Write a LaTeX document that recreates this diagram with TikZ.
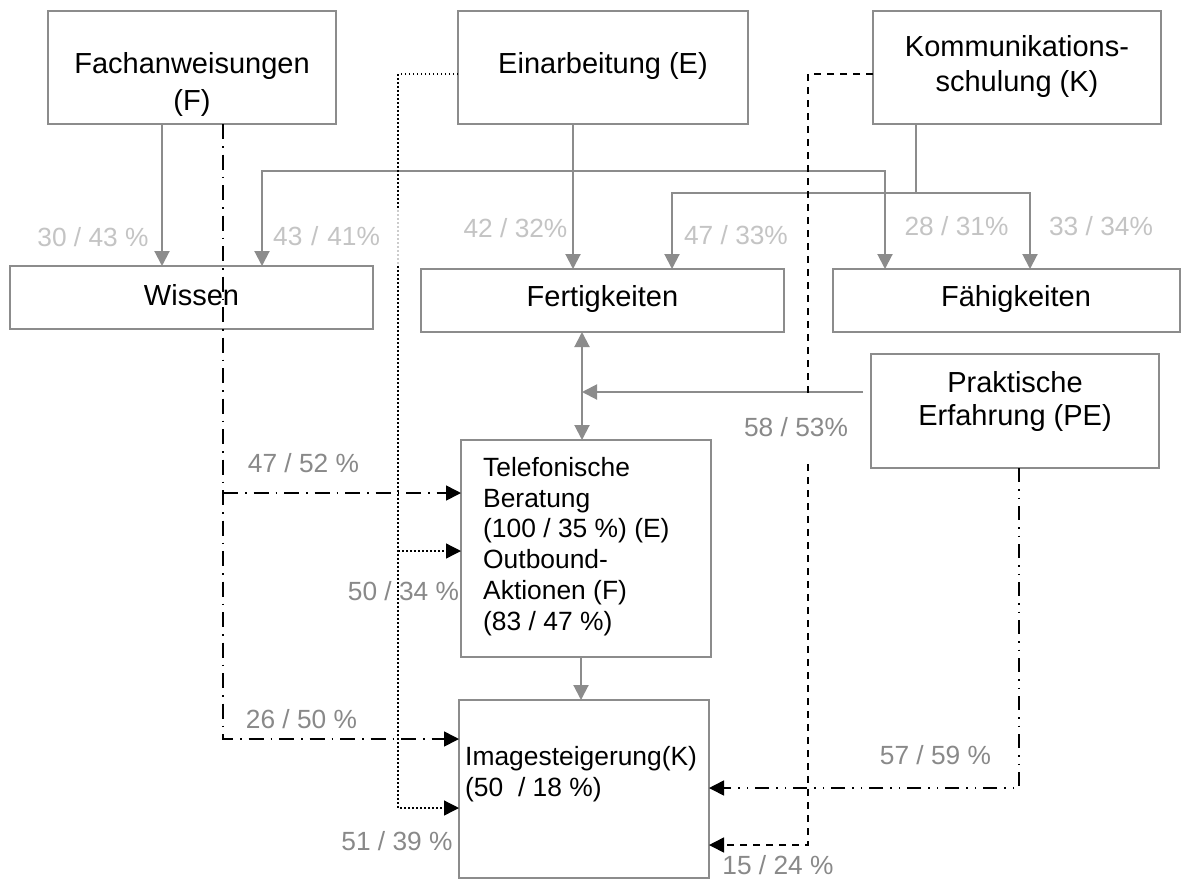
\documentclass[tikz,border=0pt]{standalone}
\usepackage{fontspec}
\setmainfont{Liberation Sans}
\usetikzlibrary{arrows.meta,calc}
\definecolor{boxgray}{HTML}{8C8C8C}
\definecolor{lblLight}{HTML}{C4C4C4}
\definecolor{lblDark}{HTML}{898989}

\begin{document}
\begin{tikzpicture}[x=1pt,y=-1pt,
  box/.style={draw=boxgray,line width=2pt,inner sep=0pt,outer sep=0pt},
  ttl/.style={anchor=base,inner sep=0pt,font=\fontsize{29}{35}\selectfont},
  body/.style={anchor=base west,inner sep=0pt,font=\fontsize{26.4}{31}\selectfont},
  lbl/.style={inner sep=0pt,font=\fontsize{26.3}{31}\selectfont},
  toplbl/.style={lbl,text=lblLight},
  lowlbl/.style={lbl,text=lblDark},
  tip/.tip={Triangle[length=15pt,width=15pt]},
  gline/.style={draw=boxgray,line width=2pt},
  garrow/.style={gline,-tip},
  garrowtwo/.style={gline,tip-tip},
  btip/.style={-tip},
  fdash/.style={line width=1.6pt,dash pattern=on 15pt off 7pt on 1.5pt off 7pt},
  pdash/.style={line width=1.6pt,dash pattern=on 14pt off 7pt on 1.5pt off 7pt on 1.5pt off 7pt},
  kdash/.style={line width=1.6pt,dash pattern=on 7pt off 6pt},
  dots/.style={line width=1.3pt,dash pattern=on 1.5pt off 2.5pt}
]
\fill[white] (0,0) rectangle (1189,879);
\useasboundingbox (0,0) rectangle (1189,879);

% boxes
\node[box,minimum width=288pt,minimum height=113pt] (F)  at (192,67.5) {};
\node[box,minimum width=290pt,minimum height=113pt] (E)  at (603,67.5) {};
\node[box,minimum width=288pt,minimum height=113pt] (K)  at (1017,67.5) {};
\node[box,minimum width=363pt,minimum height=63pt]  (W)  at (191.5,297.5) {};
\node[box,minimum width=363pt,minimum height=63pt]  (Fe) at (602.5,300.5) {};
\node[box,minimum width=347pt,minimum height=63pt]  (Fa) at (1006.5,300.5) {};
\node[box,minimum width=288pt,minimum height=114pt] (PE) at (1015,411) {};
\node[box,minimum width=250pt,minimum height=217pt] (T)  at (586,548.5) {};
\node[box,minimum width=250pt,minimum height=178pt] (I)  at (584,789) {};

% box texts
\node[ttl] (Ft1)  at (192,73.3)    {Fachanweisungen};
\node[ttl] (Ft2)  at (192,110)     {(F)};
\node[ttl] (Et)   at (603,73.3)    {Einarbeitung (E)};
\node[ttl] (Kt1)  at (1017,56.7)   {Kommunikations-};
\node[ttl] (Kt2)  at (1017,91.7)   {schulung (K)};
\node[ttl] (Wt)   at (191.5,305)   {Wissen};
\node[ttl] (Fet)  at (602.5,306.7) {Fertigkeiten};
\node[ttl] (Fat)  at (1016,306.7)  {Fähigkeiten};
\node[ttl] (PEt1) at (1015,392.3)  {Praktische};
\node[ttl] (PEt2) at (1015,425.7)  {Erfahrung (PE)};

\node[body] (Tt1) at (483,476.7) {Telefonische};
\node[body] (Tt2) at (483,507.3) {Beratung};
\node[body] (Tt3) at (483,537.5) {(100 / 35 \%) (E)};
\node[body] (Tt4) at (483,568.5) {Outbound-};
\node[body] (Tt5) at (483,599.3) {Aktionen (F)};
\node[body] (Tt6) at (483,630)   {(83 / 47 \%)};
\node[body] (It1) at (465,765.7) {Imagesteigerung(K)};
\node[body] (It2) at (465,796)   {(50\ \ / 18 \%)};

% gray connectors
\coordinate (fx)   at (162,0);
\coordinate (ebus) at (573,171);
\coordinate (wx)   at (262,0);
\coordinate (fax)  at (885,0);
\coordinate (kbus) at (916,193);
\coordinate (fex)  at (672,0);
\coordinate (fbx)  at (1030,0);
\coordinate (dx)   at (582,392);
\coordinate (pein) at (863,392);
\coordinate (tix)  at (581,0);

\draw[garrow] (F.south -| fx) -- (W.north -| fx);
\draw[garrow] (E.south -| ebus) -- (Fe.north -| ebus);
\draw[garrow] (ebus) -| (W.north -| wx);
\draw[garrow] (ebus) -| (Fa.north -| fax);
\draw[gline]  (K.south -| kbus) -- (kbus);
\draw[garrow] (kbus) -| (Fe.north -| fex);
\draw[garrow] (kbus) -| (Fa.north -| fbx);
\draw[garrowtwo] (Fe.south -| dx) -- (T.north -| dx);
\draw[garrow] (pein) -- (dx);
\draw[garrow] (T.south -| tix) -- (I.north -| tix);

% black connectors
\coordinate (fd1) at (223,493);
\coordinate (fd2) at (223,739);
\draw[fdash,btip] (F.south -| fd2) |- (I.west |- fd2);
\draw[fdash,btip] (fd1) -- (T.west |- fd1);

\coordinate (ed0) at (398,74);
\coordinate (ed1) at (398,551);
\coordinate (ed2) at (398,808);
\draw[dots,btip] (E.west |- ed0) -- (ed0) -- (ed2) -- (I.west |- ed2);
\draw[dots,btip] (ed1) -- (T.west |- ed1);

\coordinate (kd0) at (808,74);
\coordinate (kd2) at (808,845);
\draw[kdash,btip] (K.west |- kd0) -- (kd0) -- (kd2) -- (I.east |- kd2);

\coordinate (pd) at (1019,788);
\draw[pdash,btip] (PE.south -| pd) |- (I.east |- pd);

% percentages
\node[toplbl] (l1) at (93,237.5)   {30 / 43 \%};
\node[toplbl,anchor=west,align=left,text width=128pt,minimum height=57pt,
      fill=white,fill opacity=.8,text opacity=1] (l2) at (273,236) {43 / 41\%};
\node[toplbl] (l3) at (515.5,228)  {42 / 32\%};
\node[toplbl] (l4) at (736,235)    {47 / 33\%};
\node[toplbl] (l5) at (956.5,226)  {28 / 31\%};
\node[toplbl] (l6) at (1101,226)   {33 / 34\%};

\node[lowlbl] (l7)  at (303.5,463.5) {47 / 52 \%};
\node[lowlbl] (l8)  at (403.5,591)   {50 / 34 \%};
\node[lowlbl,fill=white,inner xsep=2pt,minimum height=60pt] (l9) at (796,427.5) {58 / 53\%};
\node[lowlbl] (l10) at (301.5,719)   {26 / 50 \%};
\node[lowlbl] (l11) at (397,841.5)   {51 / 39 \%};
\node[lowlbl] (l12) at (935.5,755)   {57 / 59 \%};
\node[lowlbl] (l13) at (778,865.5)   {15 / 24 \%};
\end{tikzpicture}
\end{document}
